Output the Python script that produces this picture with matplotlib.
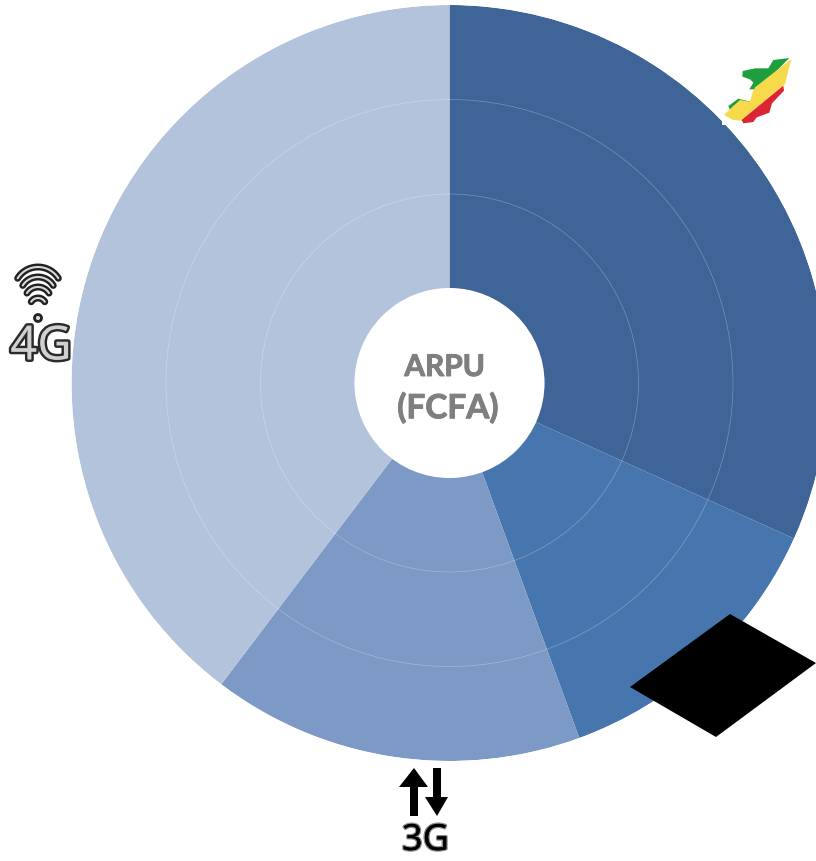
import numpy as np
import matplotlib
matplotlib.use("Agg")
import matplotlib.pyplot as plt
import matplotlib.patheffects as pe
from matplotlib.patches import Polygon, Rectangle, Circle

# share of each sector
labels = ["Segment 1", "Segment 2", "3G", "4G"]
shares = [31.75, 12.67, 15.9, 39.68]
colors = ["#3F6497", "#4776AF", "#7D99C6", "#B4C3DC"]
rings = [1, 2, 3, 4]

W, H = 816, 861
cx, cy, R = 449.5, 383, 378

fig = plt.figure(figsize=(W / 100, H / 100), dpi=100)
ax = fig.add_axes([(cx - R) / W, (H - cy - R) / H, 2 * R / W, 2 * R / H], projection="polar")
ax.set_theta_zero_location("N")
ax.set_theta_direction(-1)

shares = np.array(shares)
widths = shares / shares.sum() * 2 * np.pi
starts = np.concatenate([[0], np.cumsum(widths)[:-1]])
for s, w, c in zip(starts, widths, colors):
    ax.bar(s, rings[-1], width=w, align="edge", color=c, linewidth=0, zorder=1)

ax.set_ylim(0, rings[-1])
ax.set_yticks(rings[:-1])
ax.set_yticklabels([])
ax.set_xticks([])
ax.yaxis.grid(True, color="white", alpha=0.3, linewidth=0.5, zorder=2)
ax.set_axisbelow(False)
ax.spines["polar"].set_visible(False)
ax.patch.set_visible(False)

# overlay in pixel coordinates for the centre and the pictograms
ov = fig.add_axes([0, 0, 1, 1])
ov.set_xlim(0, W)
ov.set_ylim(H, 0)
ov.axis("off")

ov.add_patch(Circle((cx, cy), 95, color="white", lw=0))
bold = [pe.withStroke(linewidth=0.7, foreground="#7F7F7F")]
ov.text(444.5, 367, "ARPU", ha="center", va="center", fontsize=21.5, fontweight="bold",
        family="Lato", color="#7F7F7F", path_effects=bold)
ov.text(448, 408, "(FCFA)", ha="center", va="center", fontsize=24, fontweight="bold",
        family="Lato", color="#7F7F7F", path_effects=bold)

# black diamond
ov.add_patch(Polygon([(630, 687), (730, 614), (816, 663), (716, 737)], color="black", lw=0))


# Congo map
def z(points):
    return [(700 + a / 3, 40 + b / 3) for a, b in points]


ov.add_patch(Rectangle((722, 50), 74, 75, color="white", lw=0))
ov.add_patch(Polygon(z([(268, 54), (220, 60), (205, 85), (165, 85), (128, 93), (127, 110), (150, 118),
                        (160, 128), (148, 148), (175, 148)]), color="#1E9E3E", lw=0))
ov.add_patch(Polygon(z([(85, 198), (115, 176), (150, 185), (150, 200), (90, 210)]), color="#1E9E3E", lw=0))
ov.add_patch(Polygon(z([(274, 57), (255, 132), (125, 242), (100, 240), (72, 225), (90, 207), (120, 180),
                        (150, 185), (158, 158), (165, 142)]), color="#F7D94C", lw=0))
ov.add_patch(Polygon(z([(250, 137), (252, 152), (216, 190), (208, 218), (170, 232), (160, 246), (130, 250),
                        (125, 240)]), color="#DD2435", lw=0))

# wifi + 4G
wx = 38
for top, r in [(267, 24), (277, 18), (287, 13), (298, 8)]:
    a = np.radians(np.linspace(-58, 58, 40))
    ov.plot(wx + r * np.sin(a), top + r - r * np.cos(a), color="#222222", lw=5, solid_capstyle="round")
    ov.plot(wx + r * np.sin(a), top + r - r * np.cos(a), color="#D8D8D8", lw=1.5, solid_capstyle="round")
ov.add_patch(Circle((wx, 318), 3.5, fc="#D8D8D8", ec="#222222", lw=2))
ov.text(41, 347, "4G", ha="center", va="center", fontsize=34, fontweight="bold", color="#D0D0D0",
        family="Noto Sans", fontstretch="extra-condensed",
        path_effects=[pe.withStroke(linewidth=3.5, foreground="#2A2A2A")])

# arrows + 3G
ov.add_patch(Polygon([(414, 768), (428, 787), (418, 787), (418, 816), (410, 816), (410, 787), (399, 787)],
                     color="black", lw=0))
ov.add_patch(Polygon([(437, 816), (448, 797), (441, 797), (441, 768), (433, 768), (433, 797), (425, 797)],
                     color="black", lw=0))
ov.text(425.5, 841, "3G", ha="center", va="center", fontsize=26, fontweight="bold", color="black",
        family="Noto Sans", fontstretch="extra-condensed",
        path_effects=[pe.withStroke(linewidth=2, foreground="#8A8A8A"), pe.Normal()])

fig.savefig("out.png", dpi=100)
